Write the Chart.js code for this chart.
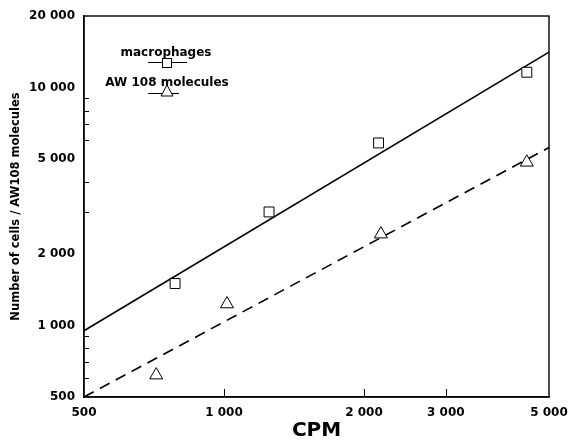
<!DOCTYPE html>
<html>
<head>
<meta charset="utf-8">
<script src="https://cdn.jsdelivr.net/npm/chart.js@4"></script>
<style>
  body { margin: 0; background: #fff; }
  #wrap { width: 569px; height: 443px; }
</style>
</head>
<body>
<div id="wrap"><canvas id="cpm-chart"></canvas></div>
<script>
// values
var cpmMacro = [785, 1250, 2150, 4480];
var macroCells = [1500, 3000, 5850, 11600];
var cpmAw = [715, 1015, 2175, 4480];
var awMolecules = [618, 1230, 2420, 4850];

// regression lines (end points)
var fitX = [500, 5000];
var fitMacro = [950, 14100];
var fitAw = [500, 5600];

var xTickValues = [500, 1000, 2000, 3000, 5000];
var yTickValues = [500, 1000, 2000, 5000, 10000, 20000];
var xTickMarks = [1000, 2000, 3000];
var yMinorTicks = [600, 700, 800, 900, 3000, 4000, 6000, 7000, 8000, 9000];
var legendLabels = ['macrophages', 'AW 108 molecules'];

var FONT = '"DejaVu Sans", sans-serif';

function fmt(v) {
	return String(v).replace(/\B(?=(\d{3})+$)/g, ' ');
}
function pairs(xs, ys) {
	return xs.map(function(x, i) { return {x: x, y: ys[i]}; });
}

var framePlugin = {
	id: 'frame',
	afterDatasetsDraw: function(chart) {
		var ctx = chart.ctx, a = chart.chartArea;
		var x = chart.scales.x, y = chart.scales.y;
		ctx.save();
		ctx.strokeStyle = '#000';
		ctx.lineWidth = 1.4;
		ctx.strokeRect(a.left, a.top, a.right - a.left, a.bottom - a.top);

		ctx.lineWidth = 1;
		ctx.beginPath();
		yMinorTicks.forEach(function(v) {
			var py = Math.round(y.getPixelForValue(v)) + 0.5;
			ctx.moveTo(a.left, py);
			ctx.lineTo(a.left + 5, py);
		});
		xTickMarks.forEach(function(v) {
			var px = Math.round(x.getPixelForValue(v)) + 0.5;
			ctx.moveTo(px, a.bottom);
			ctx.lineTo(px, a.bottom - 8);
		});
		ctx.stroke();

		// legend: label above a short bar with the marker
		ctx.fillStyle = '#000';
		ctx.font = 'bold 12px ' + FONT;
		ctx.textAlign = 'center';
		ctx.textBaseline = 'alphabetic';
		ctx.fillText(legendLabels[0], 166, 56);
		ctx.fillText(legendLabels[1], 167, 86);

		ctx.beginPath();
		ctx.moveTo(148, 62.5); ctx.lineTo(187, 62.5);
		ctx.moveTo(148, 93.5); ctx.lineTo(179, 93.5);
		ctx.stroke();

		ctx.fillStyle = '#fff';
		ctx.fillRect(162, 58, 9, 9);
		ctx.strokeRect(162.5, 58.5, 9, 9);

		ctx.beginPath();
		ctx.moveTo(167, 85);
		ctx.lineTo(173, 96);
		ctx.lineTo(161, 96);
		ctx.closePath();
		ctx.fill();
		ctx.stroke();
		ctx.restore();
	}
};

new Chart(document.getElementById('cpm-chart'), {
	type: 'scatter',
	data: {
		datasets: [
			{
				label: 'macrophages',
				data: pairs(cpmMacro, macroCells),
				pointStyle: 'rect',
				pointRadius: 7,
				pointBorderWidth: 1,
				borderColor: '#000',
				backgroundColor: '#fff'
			},
			{
				label: 'AW 108 molecules',
				data: pairs(cpmAw, awMolecules),
				pointStyle: 'triangle',
				pointRadius: 7.5,
				pointBorderWidth: 1,
				borderColor: '#000',
				backgroundColor: '#fff'
			},
			{
				type: 'line',
				label: 'fit macrophages',
				data: pairs(fitX, fitMacro),
				borderColor: '#000',
				borderWidth: 1.6,
				pointRadius: 0,
				fill: false
			},
			{
				type: 'line',
				label: 'fit AW108',
				data: pairs(fitX, fitAw),
				borderColor: '#000',
				borderWidth: 1.6,
				borderDash: [11, 7],
				pointRadius: 0,
				fill: false
			}
		]
	},
	options: {
		responsive: true,
		maintainAspectRatio: false,
		animation: false,
		layout: { padding: { top: 16, right: 20, left: 0, bottom: 0 } },
		plugins: {
			legend: { display: false },
			tooltip: { enabled: false }
		},
		scales: {
			x: {
				type: 'logarithmic',
				min: 500,
				max: 5000,
				afterBuildTicks: function(s) {
					s.ticks = xTickValues.map(function(v) { return {value: v}; });
				},
				afterFit: function(s) {
					s.height = 46;
					s.paddingLeft = 0;
					s.paddingRight = 0;
				},
				grid: { display: false, drawTicks: false },
				border: { display: true, color: '#000', width: 1.4 },
				ticks: {
					color: '#000',
					font: { family: FONT, size: 12, weight: 'bold' },
					padding: 9,
					maxRotation: 0,
					autoSkip: false,
					callback: function(v) { return fmt(v); }
				},
				title: {
					display: true,
					text: 'CPM',
					color: '#000',
					font: { family: FONT, size: 20, weight: 'bold' },
					padding: { top: 0, bottom: 0 }
				}
			},
			y: {
				type: 'logarithmic',
				min: 500,
				max: 20000,
				afterBuildTicks: function(s) {
					s.ticks = yTickValues.map(function(v) { return {value: v}; });
				},
				afterFit: function(s) {
					s.width = 84;
					s.paddingTop = 0;
					s.paddingBottom = 0;
				},
				grid: { display: false, drawTicks: false },
				border: { display: true, color: '#000', width: 1.4 },
				ticks: {
					color: '#000',
					font: { family: FONT, size: 12, weight: 'bold' },
					padding: 9,
					autoSkip: false,
					callback: function(v) { return fmt(v); }
				},
				title: {
					display: true,
					text: 'Number of cells / AW108 molecules',
					color: '#000',
					font: { family: FONT, size: 11.5, weight: 'bold' },
					padding: { top: 9, bottom: 0 }
				}
			}
		}
	},
	plugins: [framePlugin]
});
</script>
</body>
</html>
